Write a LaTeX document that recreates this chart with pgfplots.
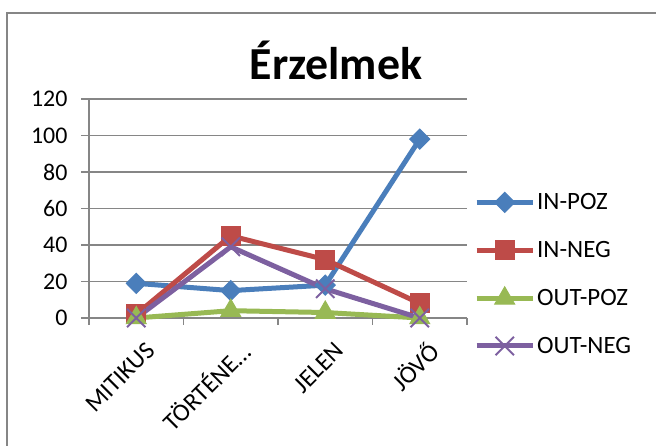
\documentclass[border=0pt]{standalone}
\usepackage{fontspec}
\setmainfont{Carlito}
\usepackage{pgfplots}
\pgfplotsset{compat=1.18}
\definecolor{cblue}{HTML}{4A7EBB}
\definecolor{cred}{HTML}{BE4B48}
\definecolor{cgreen}{HTML}{98B954}
\definecolor{cpurple}{HTML}{7D60A0}
\definecolor{gridgray}{HTML}{868686}
\begin{document}
\begin{tikzpicture}[x=1bp,y=1bp]
\useasboundingbox (0,0) rectangle (656,446);
\draw[gridgray, line width=1.8bp] (7,-10) rectangle (670,433);
\node[font=\fontsize{46}{50}\selectfont\bfseries] at (336,386) {Érzelmek};
\begin{axis}[
  at={(89bp,128bp)}, anchor=south west,
  scale only axis, width=378bp, height=219bp,
  xmin=-0.5, xmax=3.5, ymin=0, ymax=120,
  ytick={0,20,...,120},
  xtick={0,1,2,3},
  xticklabels={MITIKUS, TÖRTÉNE…, JELEN, JÖVŐ},
  minor xtick={-0.5,0.5,1.5,2.5,3.5},
  axis lines=left,
  axis line style={-, draw=gridgray, line width=1.8bp},
  ymajorgrids,
  grid style={draw=gridgray, line width=1.8bp},
  tick align=outside,
  major tick length=8bp, minor tick length=7bp,
  xtick style={draw=none},
  minor x tick style={draw=gridgray, line width=1.8bp},
  ytick style={draw=gridgray, line width=1.8bp},
  /pgf/number format/assume math mode=true,
  tick label style={font=\fontsize{24}{28}\selectfont},
  x tick label style={font=\fontsize{25}{28}\selectfont, rotate=45, anchor=east, xshift=-1.2bp, yshift=-24.8bp},
  y tick label style={xshift=-10bp},
  legend style={at={(axis description cs:1.0,0.2)}, anchor=west, draw=none, fill=none,
    font=\fontsize{25}{29}\selectfont, row sep=26bp, inner sep=0pt, xshift=7bp},
  legend cell align=left,
  legend image code/.code={\draw[mark repeat=2,mark phase=2] plot coordinates {(0bp,0bp) (28bp,0bp) (56bp,0bp)};},
  every axis plot/.append style={line width=5bp},
  clip=false,
]
\addplot[cblue, mark=diamond*, mark size=10bp, mark options={xscale=1.33, line width=1bp}] coordinates {(0,19) (1,15) (2,18) (3,98)};
\addlegendentry{IN-POZ}
\addplot[cred, mark=square*, mark size=9.5bp, mark options={line width=1bp}] coordinates {(0,2) (1,45) (2,32) (3,8)};
\addlegendentry{IN-NEG}
\addplot[cgreen, mark=triangle*, mark size=11.5bp, mark options={line width=1bp}] coordinates {(0,0) (1,4) (2,3) (3,0)};
\addlegendentry{OUT-POZ}
\addplot[cpurple, mark=x, mark size=13bp, mark options={line width=2bp}] coordinates {(0,0) (1,39) (2,16) (3,0)};
\addlegendentry{OUT-NEG}
\end{axis}
\end{tikzpicture}
\end{document}
